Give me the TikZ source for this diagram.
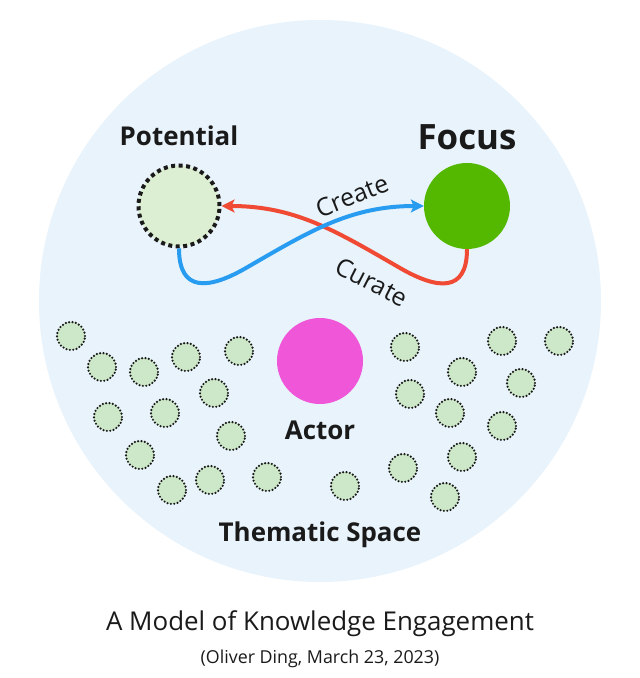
\documentclass[tikz,border=0pt]{standalone}
\usepackage{fontspec}
\setmainfont{Open Sans}
\usepackage{tikz}
\usetikzlibrary{positioning,arrows.meta}

\definecolor{bgblue}{RGB}{232,243,251}
\definecolor{potgreen}{RGB}{221,239,210}
\definecolor{dotgreen}{RGB}{205,232,200}
\definecolor{focgreen}{RGB}{84,184,0}
\definecolor{actpink}{RGB}{240,86,216}
\definecolor{curred}{RGB}{240,74,52}
\definecolor{creblue}{RGB}{40,156,240}
\definecolor{ink}{RGB}{26,26,26}

\begin{document}
\begin{tikzpicture}[x=1bp, y=1bp, text=ink,
    main/.style = {circle, inner sep=0pt},
    dot/.style = {main, fill=dotgreen, draw=ink, line width=2.4bp, line cap=round, dash pattern=on 0bp off 3.4bp, minimum size=28bp},
    lbl/.style = {inner sep=0pt, font=\bfseries\fontsize{26}{30}\selectfont},
    verb/.style = {inner sep=1pt, font=\fontsize{25}{28}\selectfont},
    arc/.style = {line width=4bp, -{Stealth[length=13bp, width=13bp, inset=3bp]}}]
    \useasboundingbox (0,0) rectangle (640,678);
    \fill[bgblue] (320,377) circle (281);
    % thematic space
    \foreach \x/\y in {71/342, 102/311, 144/306, 186/321, 239/327, 214/285, 108/261, 165/265, 231/242, 140/223,
        172/188, 210/198, 267/201, 345/192, 405/331, 410/284, 462/306, 450/265, 502/337, 559/337,
        521/295, 502/252, 462/221, 403/210, 445/181}
        \node[dot] at (\x,\y) {};
    \node[main, fill=potgreen, draw=ink, line width=4bp, dash pattern=on 4bp off 3.5bp, minimum size=81bp] (pot) at (179,472) {};
    \node[main, fill=focgreen, minimum size=86bp] (foc) at (467,472) {};
    \node[main, fill=actpink, minimum size=86bp] (act) at (320,317) {};
    \node[lbl, above=18bp of pot] {Potential};
    \node[lbl, above=13bp of foc, font=\bfseries\fontsize{35}{40}\selectfont] {Focus};
    \node[lbl, below=17bp of act] {Actor};
    \node[lbl, anchor=base] at (320,136.3) {Thematic Space};
    % loop
    \draw[arc, curred] (foc.south) to[out=-90, in=-30, looseness=1.6] (400,410) to[out=150, in=0] (pot.east);
    \draw[arc, creblue] (pot.south) to[out=-90, in=-150, looseness=1.6] (246,410) to[out=30, in=180] (foc.west);
    \node[verb, rotate=22] at (352,482) {Create};
    \node[verb, rotate=-27] at (372,396) {Curate};
    % caption
    \node[anchor=base, font=\fontsize{26}{30}\selectfont] at (320,47.3) {A Model of Knowledge Engagement};
    \node[anchor=base, font=\fontsize{17.9}{21}\selectfont] at (320,14.7) {(Oliver Ding, March 23, 2023)};
\end{tikzpicture}
\end{document}
